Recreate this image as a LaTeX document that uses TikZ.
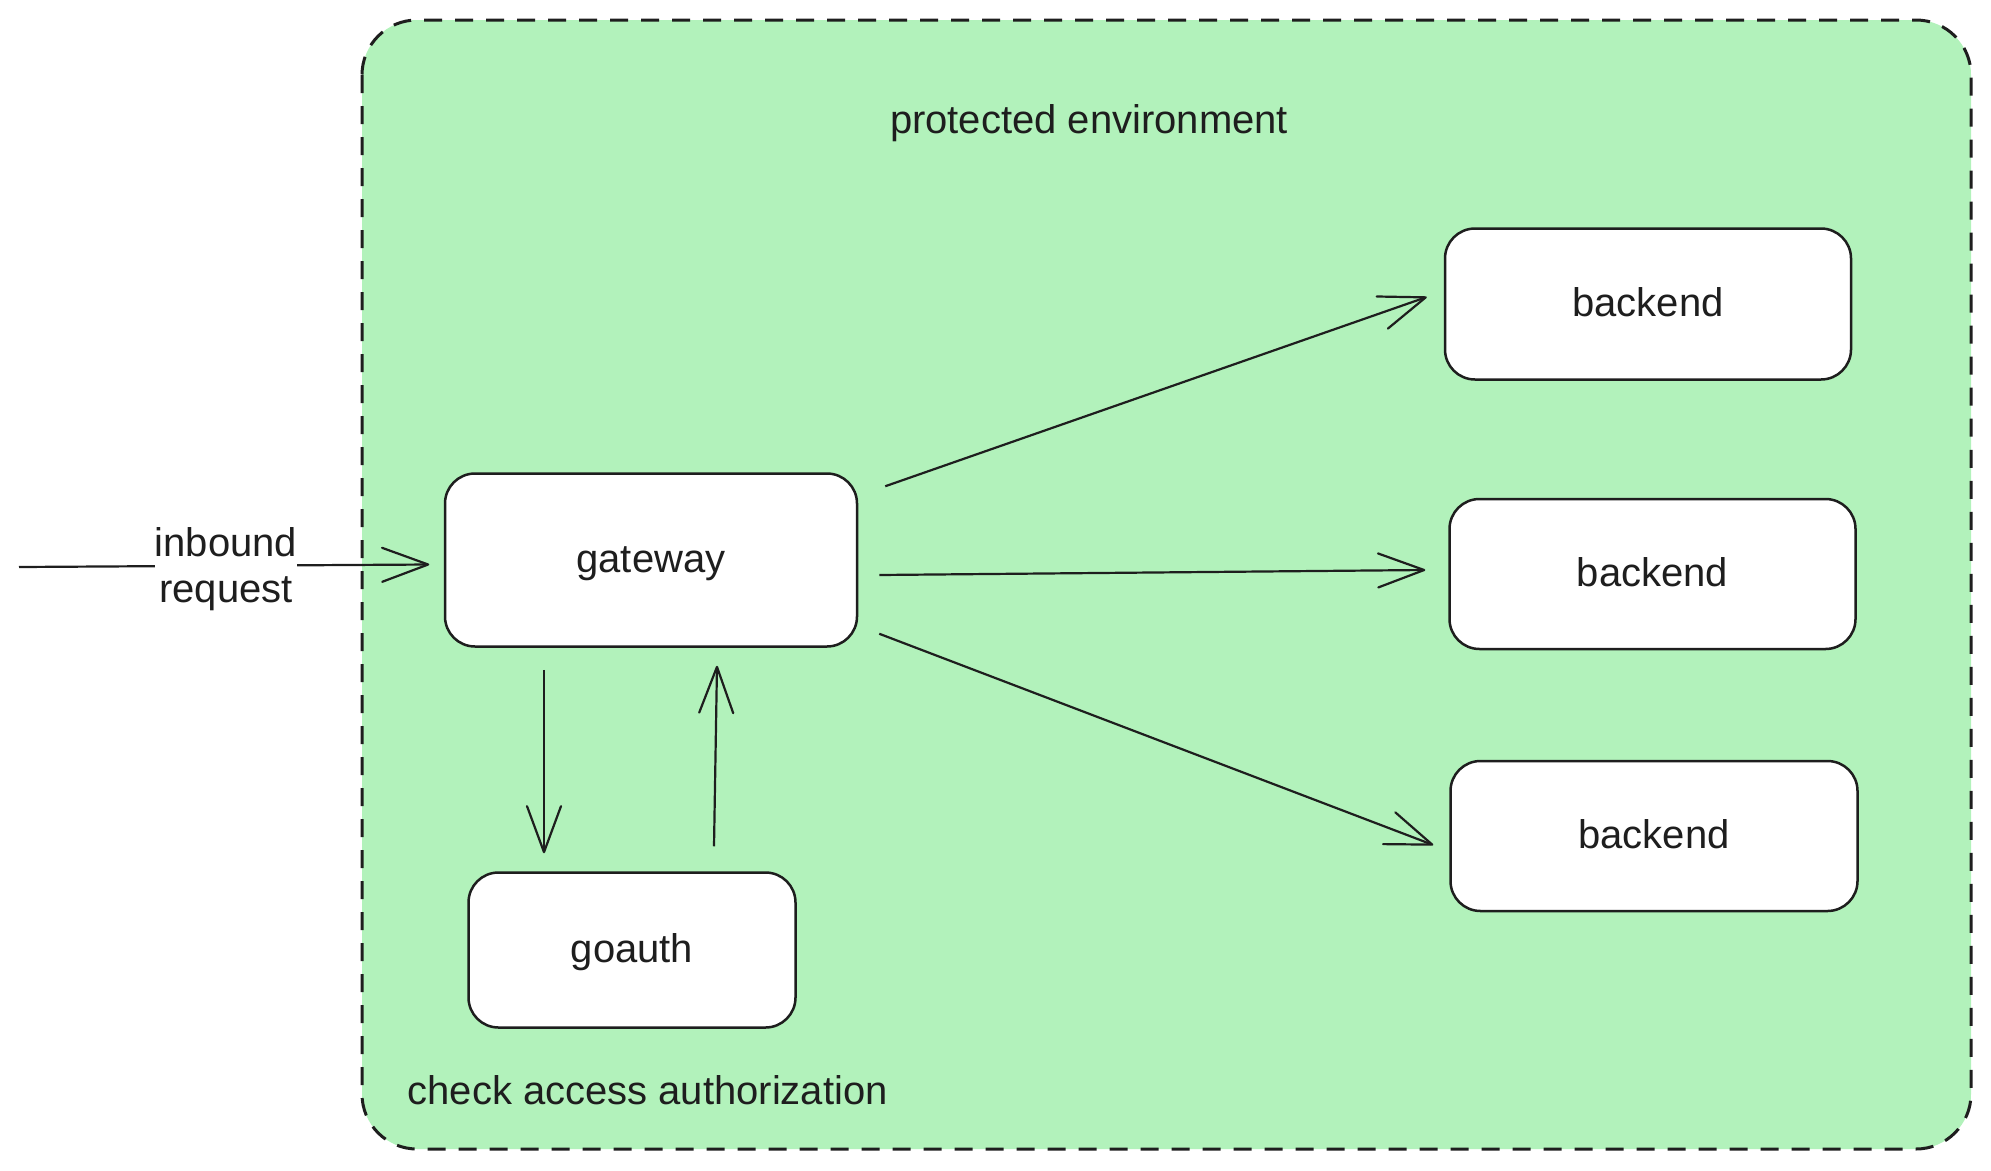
\documentclass[tikz,border=0pt]{standalone}
\usepackage{fontspec}
\setmainfont{Liberation Sans}
\usetikzlibrary{arrows.meta}
\definecolor{envgreen}{HTML}{B2F2BB}
\definecolor{ink}{HTML}{1E1E1E}
\begin{document}
\begin{tikzpicture}[x=1pt,y=-1pt,
  every node/.style={text=ink, font=\fontsize{40}{46}\selectfont},
  box/.style={draw=ink, fill=white, line width=2.5pt, rounded corners=30pt,
    inner sep=0pt, text height=33pt, text depth=8pt},
  arr/.style={draw=ink, line width=2.2pt,
    -{Straight Barb[length=46pt,width=34pt,line cap=round,line join=round]}},
  envbox/.style={draw=ink, fill=envgreen, line width=3pt, rounded corners=55pt,
    dash pattern=on 18pt off 13pt}
]
\useasboundingbox (0,0) rectangle (1991,1170);
% protected environment
\draw[envbox] (362,20) rectangle (1971,1149);
\node[anchor=base] (envlabel) at (1089,133) {protected environment};
\node[anchor=base west] (checklabel) at (404,1104) {check access authorization};

% boxes
\node[box, minimum width=412pt, minimum height=173pt] (gateway) at (651,560) {gateway};
\node[box, minimum width=327pt, minimum height=155pt] (goauth) at (632,950) {goauth};
\node[box, minimum width=406pt, minimum height=151pt] (b1) at (1648,304) {backend};
\node[box, minimum width=406pt, minimum height=150pt] (b2) at (1652.5,574) {backend};
\node[box, minimum width=407pt, minimum height=150pt] (b3) at (1654,836) {backend};

% inbound request
\coordinate (src) at (19,567);
\draw[arr] (src) -- ([shift={(-14.5,4.5)}]gateway.west);
\node[fill=white, inner sep=0pt, align=center] (inlabel) at (226,569) {inbound\\request};

% gateway to backends
\draw[arr] ([shift={(27,14)}]gateway.north east) -- ([shift={(-17,-7)}]b1.west);
\draw[arr] ([shift={(21,15)}]gateway.east) -- ([shift={(-23,-4)}]b2.west);
\draw[arr] ([shift={(21,-14)}]gateway.south east) -- ([shift={(-16,9)}]b3.west);

% gateway <-> goauth
\draw[arr] ([shift={(-107,22)}]gateway.south) -- ([shift={(-88,-18)}]goauth.north);
\draw[arr] ([shift={(82,-25)}]goauth.north) -- ([shift={(66,18)}]gateway.south);
\end{tikzpicture}
\end{document}
